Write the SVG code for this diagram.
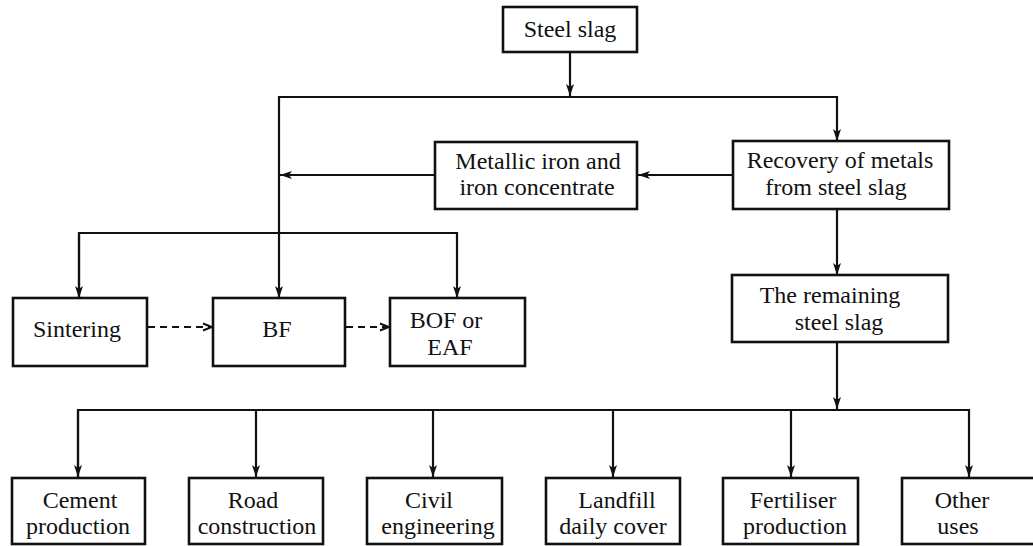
<svg xmlns="http://www.w3.org/2000/svg" width="1033" height="546" viewBox="0 0 1033 546">
<style>
.box{fill:#fff;stroke:#111;stroke-width:2.6}
.t{font-size:24px;fill:#111;text-anchor:middle}
.c{fill:none;stroke:#111;stroke-width:2.2}
.d{fill:none;stroke:#111;stroke-width:2.2;stroke-dasharray:7,5}
</style>
<defs>
<marker id="a" viewBox="0 0 12 12" refX="12" refY="6" markerWidth="12" markerHeight="12" markerUnits="userSpaceOnUse" orient="auto">
<path d="M0,2 L12,6 L0,10 L3,6 Z" fill="#111"/>
</marker>
<marker id="o" viewBox="0 0 10 10" refX="10" refY="5" markerWidth="10" markerHeight="10" markerUnits="userSpaceOnUse" orient="auto">
<path d="M1,1.5 L10,5 L1,8.5" fill="none" stroke="#111" stroke-width="2"/>
</marker>
</defs>
<rect width="1033" height="546" fill="#fff"/>
<g id="connectors">
<path class="c" d="M570,52 V96" marker-end="url(#a)"/>
<path class="c" d="M279,233 V97 H837 V141" marker-end="url(#a)"/>
<path class="c" d="M733,175 H638" marker-end="url(#a)"/>
<path class="c" d="M435,175 H280" marker-end="url(#a)"/>
<path class="c" d="M79,298 V233 H457 V298" marker-end="url(#a)"/>
<path class="c" d="M79,234 V298" marker-end="url(#a)"/>
<path class="c" d="M279,233 V298" marker-end="url(#a)"/>
<path class="d" d="M148,327 H212" marker-end="url(#o)"/>
<path class="d" d="M346,327 H389" marker-end="url(#o)"/>
<path class="c" d="M837,209 V275" marker-end="url(#a)"/>
<path class="c" d="M837,342 V409" marker-end="url(#a)"/>
<path class="c" d="M78,477 V410 H969 V477" marker-end="url(#a)"/>
<path class="c" d="M78,411 V477" marker-end="url(#a)"/>
<path class="c" d="M256,410 V477" marker-end="url(#a)"/>
<path class="c" d="M433,410 V477" marker-end="url(#a)"/>
<path class="c" d="M613,410 V477" marker-end="url(#a)"/>
<path class="c" d="M791,410 V477" marker-end="url(#a)"/>
</g>
<g font-family="Liberation Serif, DejaVu Serif, serif">
<g id="steel-slag"><rect class="box" x="503" y="7" width="134" height="45"/><text class="t" x="570" y="37">Steel slag</text></g>
<g id="metallic-iron"><rect class="box" x="435" y="142" width="202" height="67"/><text class="t" x="538" y="169">Metallic iron and</text><text class="t" x="537" y="195">iron concentrate</text></g>
<g id="recovery"><rect class="box" x="733" y="141" width="216" height="68"/><text class="t" x="840" y="168">Recovery of metals</text><text class="t" x="836" y="195">from steel slag</text></g>
<g id="sintering"><rect class="box" x="13" y="298" width="134" height="68"/><text class="t" x="77" y="337">Sintering</text></g>
<g id="bf"><rect class="box" x="213" y="298" width="132" height="68"/><text class="t" x="277" y="337">BF</text></g>
<g id="bof-eaf"><rect class="box" x="390" y="298" width="135" height="68"/><text class="t" x="446" y="328">BOF or</text><text class="t" x="450" y="355">EAF</text></g>
<g id="remaining"><rect class="box" x="732" y="275" width="216" height="67"/><text class="t" x="830" y="303">The remaining</text><text class="t" x="839" y="330">steel slag</text></g>
<g id="cement"><rect class="box" x="12" y="478" width="133" height="66"/><text class="t" x="80" y="508">Cement</text><text class="t" x="78" y="534">production</text></g>
<g id="road"><rect class="box" x="189" y="478" width="134" height="66"/><text class="t" x="253" y="508">Road</text><text class="t" x="257" y="534">construction</text></g>
<g id="civil"><rect class="box" x="367" y="478" width="135" height="66"/><text class="t" x="429" y="508">Civil</text><text class="t" x="438" y="534">engineering</text></g>
<g id="landfill"><rect class="box" x="546" y="478" width="134" height="66"/><text class="t" x="617" y="508">Landfill</text><text class="t" x="613" y="534">daily cover</text></g>
<g id="fertiliser"><rect class="box" x="723" y="478" width="135" height="66"/><text class="t" x="793" y="508">Fertiliser</text><text class="t" x="795" y="534">production</text></g>
<g id="other"><rect class="box" x="902" y="478" width="136" height="66"/><text class="t" x="962" y="508">Other</text><text class="t" x="958" y="534">uses</text></g>
</g>
</svg>
